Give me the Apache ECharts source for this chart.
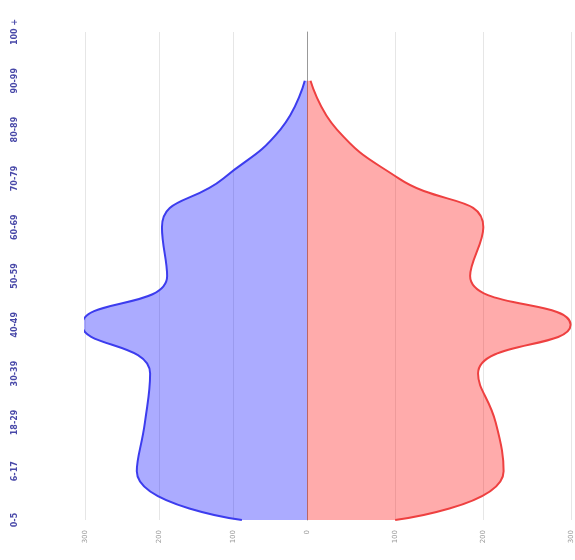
<!DOCTYPE html>
<html>
<head>
<meta charset="utf-8">
<script src="https://cdn.jsdelivr.net/npm/echarts@6/dist/echarts.min.js"></script>
<style>html,body{margin:0;padding:0;background:#fff;}#c{width:575px;height:560px;}</style>
</head>
<body>
<div id="c"></div>
<script>
var categories = ['0-5','6-17','18-29','30-39','40-49','50-59','60-69','70-79','80-89','90-99','100 +'];
var leftValues = [88, 230, 219, 212, 304, 189, 196, 113, 36, 3, null];
var rightValues = [100, 223, 214, 194, 299, 185, 200, 104, 34, 4, null];
var valueTicks = [0, 100, 200, 300];

var chart = echarts.init(document.getElementById('c'));
var labelFont = 'DejaVu Sans';
chart.setOption({
  animation: false,
  grid: [
    {left: 85, right: 268, top: 32, bottom: 40},
    {left: 307, right: 3, top: 32, bottom: 40}
  ],
  xAxis: [
    {gridIndex: 0, type: 'value', inverse: true, min: valueTicks[0], max: valueTicks[3], interval: 100,
     axisLine: {show: false}, axisTick: {show: false},
     splitLine: {lineStyle: {color: '#e6e6e6'}},
     axisLabel: {rotate: 90, fontSize: 7, color: '#999', fontFamily: labelFont, margin: 10}},
    {gridIndex: 1, type: 'value', min: valueTicks[0], max: valueTicks[3], interval: 100,
     axisLine: {show: false}, axisTick: {show: false},
     splitLine: {lineStyle: {color: '#e6e6e6'}},
     axisLabel: {rotate: 90, fontSize: 7, color: '#999', fontFamily: labelFont, margin: 10,
       formatter: function (v) { return v === 0 ? '' : String(v); }}}
  ],
  yAxis: [
    {gridIndex: 0, type: 'category', data: categories, boundaryGap: false,
     axisLine: {show: false}, axisTick: {show: false}, splitLine: {show: false},
     axisLabel: {rotate: 90, fontSize: 8, fontWeight: 'bold', color: '#4848a8', fontFamily: labelFont, margin: 66}},
    {gridIndex: 1, type: 'category', data: categories, boundaryGap: false, position: 'left',
     axisLine: {show: true, lineStyle: {color: '#999', width: 1}}, axisTick: {show: false},
     splitLine: {show: false}, axisLabel: {show: false}}
  ],
  series: [
    {type: 'line', xAxisIndex: 0, yAxisIndex: 0, data: leftValues, smooth: true, showSymbol: false,
     lineStyle: {color: '#3c3cee', width: 2}, itemStyle: {color: '#3c3cee'},
     areaStyle: {color: '#0000ff', opacity: 0.33}},
    {type: 'line', xAxisIndex: 1, yAxisIndex: 1, data: rightValues, smooth: true, showSymbol: false,
     lineStyle: {color: '#ee4040', width: 2}, itemStyle: {color: '#ee4040'},
     areaStyle: {color: '#ff0000', opacity: 0.33}}
  ]
});
</script>
</body>
</html>
